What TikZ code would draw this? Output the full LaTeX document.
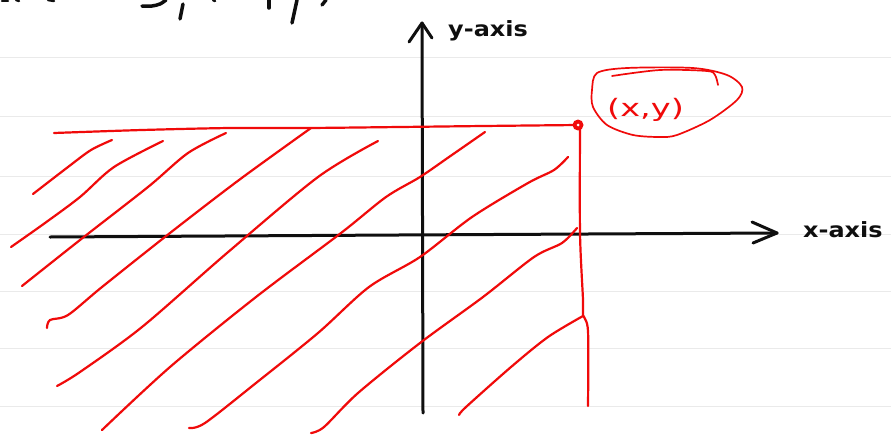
\documentclass[tikz,border=0pt]{standalone}
\usepackage{fontspec}
\newfontfamily\hand{DejaVu Sans}
\usetikzlibrary{arrows.meta}
\definecolor{penred}{RGB}{240,10,10}
\definecolor{penblack}{RGB}{15,15,15}
\definecolor{ruled}{RGB}{234,234,234}
\begin{document}
\begin{tikzpicture}[x=1pt,y=-1pt,
  ruleline/.style={draw=ruled,line width=1pt},
  axisline/.style={draw=penblack,line width=3pt,line cap=round,line join=round},
  hatch/.style={draw=penred,line width=2.2pt,line cap=round,line join=round},
  inkmark/.style={draw=penblack,line width=3.5pt,line cap=round},
  axislabel/.style={text=penblack,inner sep=0pt,font=\hand\bfseries\fontsize{21}{21}\selectfont},
  pointlabel/.style={text=penred,inner sep=0pt,font=\hand\fontsize{24}{24}\selectfont}]
\useasboundingbox (0,0) rectangle (891,434);
\fill[white] (0,0) rectangle (891,434);
% ruled notebook lines
\foreach \yy in {57,116,176,234,291,348,406}
  \draw[ruleline] (0,\yy) -- (891,\yy);
% cut-off handwriting at the top
\draw[inkmark,line width=2.5pt] (2,1) -- (8,1);
\draw[inkmark,line width=2.5pt] (16,0) -- (19,1);
\draw[inkmark,line width=2.5pt] (48,0) -- (54,1);
\draw[inkmark] plot[smooth] coordinates {(142,6) (152,6) (160,4) (166,0)};
\draw[inkmark] (183,4) -- (180,19);
\draw[inkmark,line width=2.5pt] (213,0) -- (215,1);
\draw[inkmark] (269,0) -- (269,8);
\draw[inkmark] (297,0) -- (292,23);
\draw[inkmark] (326,0) -- (322,5);
% axes
\coordinate (xs) at (50,237);
\coordinate (xe) at (777,233);
\coordinate (ys) at (423,413);
\coordinate (ye) at (422,23);
\draw[axisline] (xs) -- (398,235) -- (xe);
\draw[axisline] (752,222) -- (xe) -- (753,243);
\draw[axisline] (ys) -- (ye);
\draw[axisline] (409,42) -- (ye) -- (432,38);
\node[axislabel,anchor=base west] (ylab) at (448,36) {\scalebox{1.14}[1]{y-axis}};
\node[axislabel,anchor=base west] (xlab) at (803,237) {\scalebox{1.14}[1]{x-axis}};
% red region boundary
\coordinate (pt) at (578,125);
\draw[hatch] plot[smooth] coordinates {(54,133) (142,130) (230,128) (307,128) (400,127) (483,126) (pt)};
\draw[hatch] plot[smooth] coordinates {(580,127) (580,233) (583,300) (583,315) (588,331) (588,406)};
\fill[penred] (pt) circle (5.5);
\fill[white] (pt) circle (1.5);
% hatching
\draw[hatch] plot[smooth] coordinates {(33,194) (68,167) (91,150) (112,140)};
\draw[hatch] plot[smooth] coordinates {(11,247) (45,223) (80,197) (114,167) (163,141)};
\draw[hatch] plot[smooth] coordinates {(22,286) (80,240) (148,187) (188,153) (226,133)};
\draw[hatch] plot[smooth] coordinates {(47,328) (50,320) (68,315) (102,287) (170,233) (239,180) (311,128)};
\draw[hatch] plot[smooth] coordinates {(57,386) (80,372) (142,327) (227,253) (318,177) (378,141)};
\draw[hatch] plot[smooth] coordinates {(102,430) (170,367) (256,297) (341,233) (386,197) (420,177) (449,157) (485,132)};
\draw[hatch] plot[smooth] coordinates {(189,428) (205,423) (256,383) (318,333) (369,287) (420,257) (472,217) (528,183) (554,170) (568,157)};
\draw[hatch] plot[smooth] coordinates {(311,433) (324,427) (358,393) (420,343) (483,297) (534,257) (562,243) (577,228)};
\draw[hatch] plot[smooth] coordinates {(459,415) (466,407) (511,367) (548,337) (583,316)};
% circled point label
\draw[hatch,line width=1.7pt] plot[smooth cycle] coordinates {(597,73) (627,68) (693,68) (727,75) (742,87) (737,100) (710,120) (677,135) (660,137) (633,135) (607,125) (593,107) (592,90)};
\draw[hatch,line width=1.7pt] plot[smooth] coordinates {(612,76) (660,70) (707,71) (715,75) (718,85)};
\node[pointlabel,anchor=base west] (plab) at (607,116) {\scalebox{1.4}[1]{(x,y)}};
\end{tikzpicture}
\end{document}
